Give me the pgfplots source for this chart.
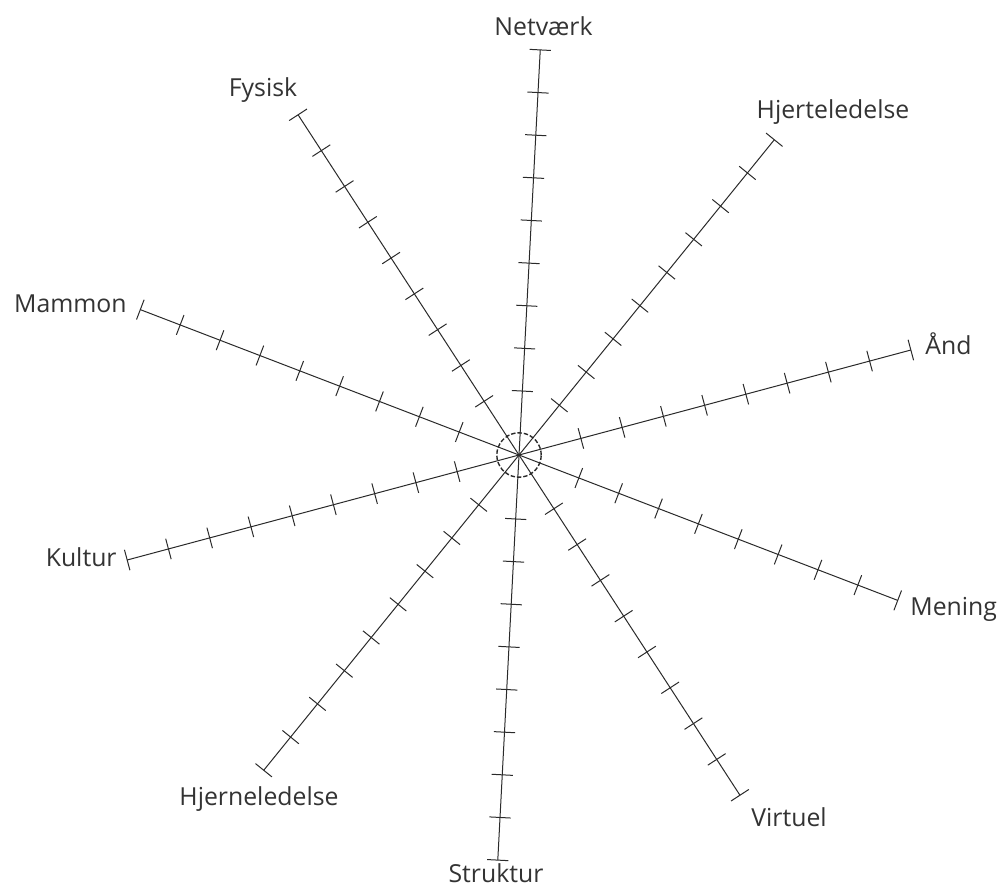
\documentclass[border=0pt]{standalone}
\usepackage{pgfplots}
\pgfplotsset{compat=1.18}
\usepgfplotslibrary{polar}
\usepackage{fontspec}
\setmainfont{Open Sans}
\definecolor{ink}{HTML}{2A2A2A}
\definecolor{txt}{HTML}{333333}
\pgfplotsset{spk/.style={only marks, mark=|, mark size=5.3pt, data cs=polar}}
\tikzset{lbl/.style={inner sep=0pt, text=txt, font=\fontsize{12.4}{14}\selectfont}}
\begin{document}
\begin{tikzpicture}
\begin{axis}[
  x=21.35pt, y=21.35pt,
  xmin=-12.155, xmax=11.311, ymin=-10.164, ymax=10.656,
  hide axis, clip=false,
  every axis plot/.append style={ink, line width=0.5pt},
]
% spokes (angle, radius)
\addplot[data cs=polar, mark=none] coordinates {(87,0) (87,9.5)};
\addplot[data cs=polar, mark=none] coordinates {(51,0) (51,9.5)};
\addplot[data cs=polar, mark=none] coordinates {(15,0) (15,9.5)};
\addplot[data cs=polar, mark=none] coordinates {(-21,0) (-21,9.5)};
\addplot[data cs=polar, mark=none] coordinates {(-57,0) (-57,9.5)};
\addplot[data cs=polar, mark=none] coordinates {(-93,0) (-93,9.5)};
\addplot[data cs=polar, mark=none] coordinates {(-129,0) (-129,9.5)};
\addplot[data cs=polar, mark=none] coordinates {(-165,0) (-165,9.5)};
\addplot[data cs=polar, mark=none] coordinates {(159,0) (159,9.5)};
\addplot[data cs=polar, mark=none] coordinates {(123,0) (123,9.5)};
% tick marks
\addplot[spk, mark options={rotate=87}] coordinates {(87,1.5)(87,2.5)(87,3.5)(87,4.5)(87,5.5)(87,6.5)(87,7.5)(87,8.5)(87,9.5)};
\addplot[spk, mark options={rotate=51}] coordinates {(51,1.5)(51,2.5)(51,3.5)(51,4.5)(51,5.5)(51,6.5)(51,7.5)(51,8.5)(51,9.5)};
\addplot[spk, mark options={rotate=15}] coordinates {(15,1.5)(15,2.5)(15,3.5)(15,4.5)(15,5.5)(15,6.5)(15,7.5)(15,8.5)(15,9.5)};
\addplot[spk, mark options={rotate=-21}] coordinates {(-21,1.5)(-21,2.5)(-21,3.5)(-21,4.5)(-21,5.5)(-21,6.5)(-21,7.5)(-21,8.5)(-21,9.5)};
\addplot[spk, mark options={rotate=-57}] coordinates {(-57,1.5)(-57,2.5)(-57,3.5)(-57,4.5)(-57,5.5)(-57,6.5)(-57,7.5)(-57,8.5)(-57,9.5)};
\addplot[spk, mark options={rotate=-93}] coordinates {(-93,1.5)(-93,2.5)(-93,3.5)(-93,4.5)(-93,5.5)(-93,6.5)(-93,7.5)(-93,8.5)(-93,9.5)};
\addplot[spk, mark options={rotate=-129}] coordinates {(-129,1.5)(-129,2.5)(-129,3.5)(-129,4.5)(-129,5.5)(-129,6.5)(-129,7.5)(-129,8.5)(-129,9.5)};
\addplot[spk, mark options={rotate=-165}] coordinates {(-165,1.5)(-165,2.5)(-165,3.5)(-165,4.5)(-165,5.5)(-165,6.5)(-165,7.5)(-165,8.5)(-165,9.5)};
\addplot[spk, mark options={rotate=159}] coordinates {(159,1.5)(159,2.5)(159,3.5)(159,4.5)(159,5.5)(159,6.5)(159,7.5)(159,8.5)(159,9.5)};
\addplot[spk, mark options={rotate=123}] coordinates {(123,1.5)(123,2.5)(123,3.5)(123,4.5)(123,5.5)(123,6.5)(123,7.5)(123,8.5)(123,9.5)};
% dashed centre circle
\addplot[data cs=polar, mark=none, line width=0.7pt, dash pattern=on 2.2pt off 1pt] coordinates {
(0,0.52)(10,0.52)(20,0.52)(30,0.52)(40,0.52)(50,0.52)(60,0.52)(70,0.52)(80,0.52)(90,0.52)
(100,0.52)(110,0.52)(120,0.52)(130,0.52)(140,0.52)(150,0.52)(160,0.52)(170,0.52)(180,0.52)
(190,0.52)(200,0.52)(210,0.52)(220,0.52)(230,0.52)(240,0.52)(250,0.52)(260,0.52)(270,0.52)
(280,0.52)(290,0.52)(300,0.52)(310,0.52)(320,0.52)(330,0.52)(340,0.52)(350,0.52)(360,0.52)};
% labels
\node[lbl, anchor=base] at (axis cs:0.574,9.836) {Netværk};
\node[lbl, anchor=base] at (axis cs:7.354,7.892) {Hjerteledelse};
\node[lbl, anchor=base west] at (axis cs:9.508,2.365) {Ånd};
\node[lbl, anchor=base west] at (axis cs:9.157,-3.747) {Mening};
\node[lbl, anchor=base west] at (axis cs:5.433,-8.689) {Virtuel};
\node[lbl, anchor=base] at (axis cs:-0.539,-10.023) {Struktur};
\node[lbl, anchor=base] at (axis cs:-6.089,-8.197) {Hjerneledelse};
\node[lbl, anchor=base east] at (axis cs:-9.415,-2.600) {Kultur};
\node[lbl, anchor=base east] at (axis cs:-9.180,3.326) {Mammon};
\node[lbl, anchor=base] at (axis cs:-5.995,8.407) {Fysisk};
\end{axis}
\path[use as bounding box] (current axis.south west) rectangle (current axis.north east);
\end{tikzpicture}
\end{document}
